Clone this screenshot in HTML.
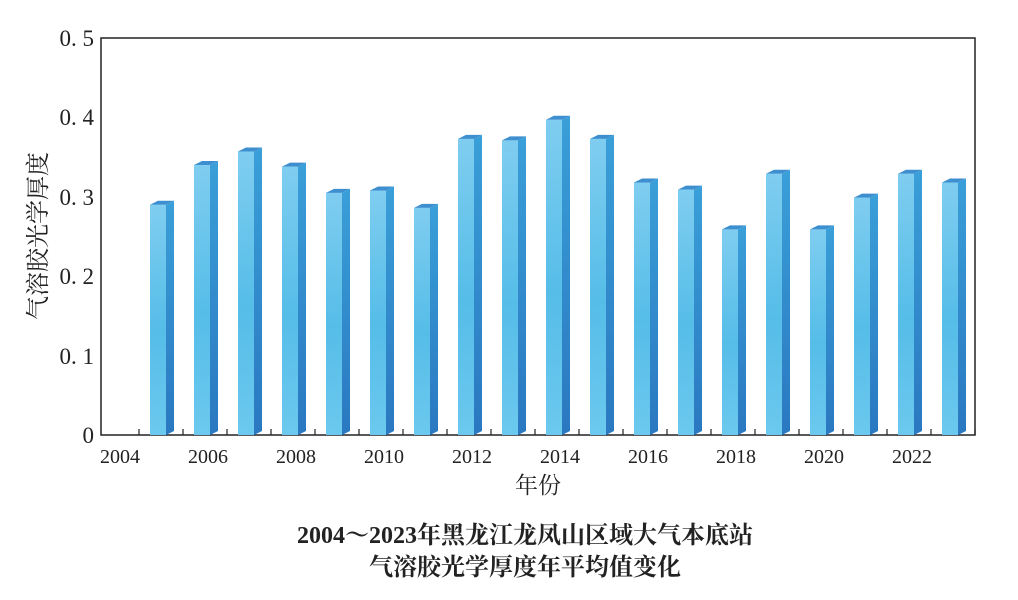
<!DOCTYPE html>
<html><head><meta charset="utf-8"><style>
body{margin:0;background:#fff;width:1018px;height:595px;overflow:hidden}
text{font-family:"Liberation Serif","Noto Serif CJK SC",serif;fill:#222}
</style></head><body>
<svg width="1018" height="595" xmlns="http://www.w3.org/2000/svg">
<defs>
<linearGradient id="f" x1="0" y1="0" x2="0" y2="1"><stop offset="0" stop-color="#7fcdf0"/><stop offset="0.55" stop-color="#55bde8"/><stop offset="1" stop-color="#6cc8ee"/></linearGradient>
<linearGradient id="s" x1="0" y1="0" x2="0" y2="1"><stop offset="0" stop-color="#3a9fd8"/><stop offset="1" stop-color="#2a78c0"/></linearGradient>
</defs>
<rect x="101" y="38" width="874" height="397" fill="none" stroke="#222" stroke-width="1.5"/>
<g id="bars"></g>
<g font-size="23" text-anchor="end">
<text x="94" y="443">0</text><text x="94" y="364">0. 1</text><text x="94" y="284">0. 2</text><text x="94" y="205">0. 3</text><text x="94" y="125">0. 4</text><text x="94" y="46">0. 5</text>
</g>
<g font-size="20" text-anchor="middle">
<text x="120" y="463">2004</text><text x="208" y="463">2006</text><text x="296" y="463">2008</text><text x="384" y="463">2010</text><text x="472" y="463">2012</text><text x="560" y="463">2014</text><text x="648" y="463">2016</text><text x="736" y="463">2018</text><text x="824" y="463">2020</text><text x="912" y="463">2022</text>
</g>
<text x="538" y="493" font-size="23" text-anchor="middle">年份</text>
<text transform="translate(46,236) rotate(-90)" font-size="24" text-anchor="middle">气溶胶光学厚度</text>
<text x="525" y="543" font-size="24" font-weight="bold" text-anchor="middle">2004～2023年黑龙江龙凤山区域大气本底站</text>
<text x="525" y="575" font-size="24" font-weight="bold" text-anchor="middle">气溶胶光学厚度年平均值变化</text>
</svg>
<script>
var v=[0.29,0.34,0.357,0.338,0.305,0.308,0.286,0.373,0.371,0.397,0.373,0.318,0.309,0.259,0.329,0.259,0.299,0.329,0.318];
var g=document.getElementById('bars'),h='';
for(var i=0;i<19;i++){var x=150+44*i,y=435-v[i]*794;
h+='<rect x="'+x+'" y="'+y+'" width="16" height="'+(435-y)+'" fill="url(#f)"/>';
h+='<polygon points="'+(x+16)+','+y+' '+(x+24)+','+(y-4)+' '+(x+24)+','+431+' '+(x+16)+',435" fill="url(#s)"/>';
h+='<polygon points="'+x+','+y+' '+(x+8)+','+(y-4)+' '+(x+24)+','+(y-4)+' '+(x+16)+','+y+'" fill="#3d8fcf"/>';
}
for(var i=0;i<20;i++){var t=139+44*i;h+='<line x1="'+t+'" y1="435" x2="'+t+'" y2="429" stroke="#222" stroke-width="1.2"/>';}
g.innerHTML=h;
</script>
</body></html>
